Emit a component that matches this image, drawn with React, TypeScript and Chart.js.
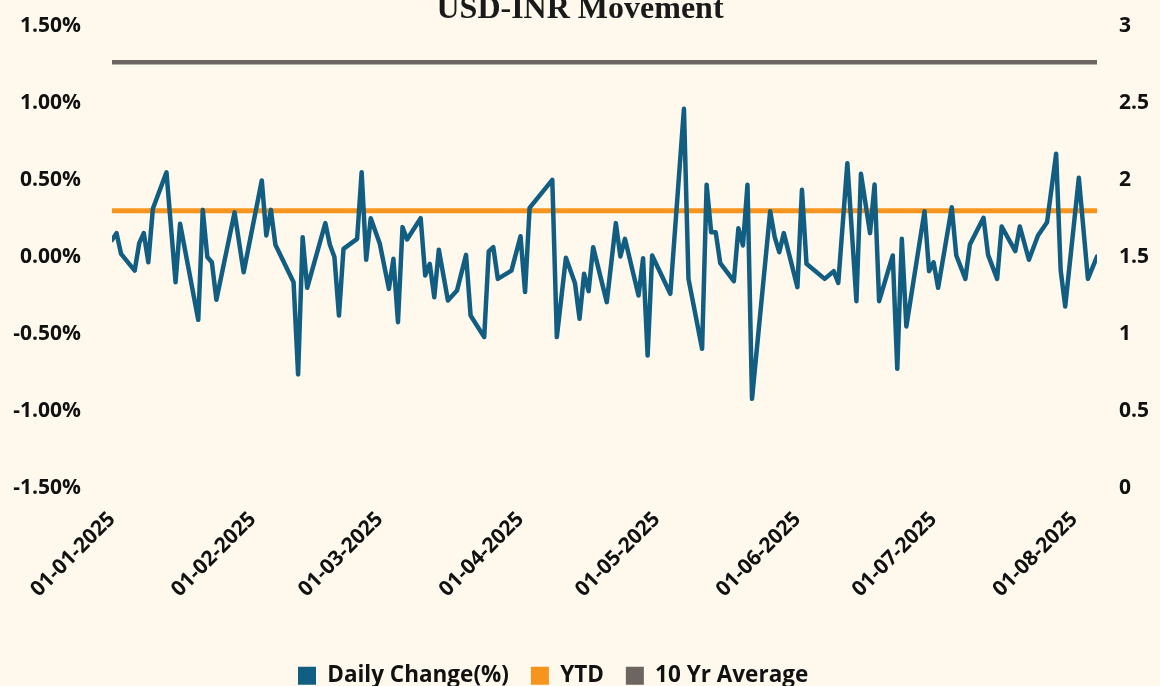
import { useEffect, useRef } from "react";
import { Chart, registerables } from "chart.js";

Chart.register(...registerables);

// ---------- data ----------
const dates: string[] = [
  "01-01-2025", "02-01-2025", "03-01-2025", "06-01-2025", "07-01-2025", "08-01-2025", "09-01-2025", "10-01-2025",
  "13-01-2025", "15-01-2025", "16-01-2025", "20-01-2025", "21-01-2025", "22-01-2025", "23-01-2025", "24-01-2025",
  "28-01-2025", "30-01-2025", "03-02-2025", "04-02-2025", "05-02-2025", "06-02-2025", "10-02-2025", "11-02-2025",
  "12-02-2025", "13-02-2025", "17-02-2025", "18-02-2025", "19-02-2025", "20-02-2025", "21-02-2025", "24-02-2025",
  "25-02-2025", "26-02-2025", "27-02-2025", "01-03-2025", "03-03-2025", "04-03-2025", "05-03-2025", "06-03-2025",
  "07-03-2025", "10-03-2025", "11-03-2025", "12-03-2025", "13-03-2025", "14-03-2025", "16-03-2025", "18-03-2025",
  "20-03-2025", "21-03-2025", "24-03-2025", "25-03-2025", "26-03-2025", "27-03-2025", "30-03-2025", "01-04-2025",
  "02-04-2025", "03-04-2025", "08-04-2025", "09-04-2025", "11-04-2025", "13-04-2025", "14-04-2025", "15-04-2025",
  "16-04-2025", "17-04-2025", "20-04-2025", "22-04-2025", "23-04-2025", "24-04-2025", "27-04-2025", "28-04-2025",
  "29-04-2025", "30-04-2025", "04-05-2025", "07-05-2025", "08-05-2025", "11-05-2025", "12-05-2025", "13-05-2025",
  "14-05-2025", "15-05-2025", "18-05-2025", "19-05-2025", "20-05-2025", "21-05-2025", "22-05-2025", "26-05-2025",
  "27-05-2025", "28-05-2025", "29-05-2025", "01-06-2025", "02-06-2025", "03-06-2025", "07-06-2025", "09-06-2025",
  "10-06-2025", "12-06-2025", "14-06-2025", "15-06-2025", "17-06-2025", "18-06-2025", "19-06-2025", "22-06-2025",
  "23-06-2025", "24-06-2025", "25-06-2025", "29-06-2025", "30-06-2025", "01-07-2025", "02-07-2025", "05-07-2025",
  "06-07-2025", "08-07-2025", "09-07-2025", "12-07-2025", "13-07-2025", "15-07-2025", "16-07-2025", "19-07-2025",
  "20-07-2025", "22-07-2025", "24-07-2025", "26-07-2025", "28-07-2025", "29-07-2025", "30-07-2025", "02-08-2025",
  "04-08-2025", "06-08-2025",
];

const dailyChange: number[] = [
  0.11, 0.155, 0.02, -0.088, 0.09, 0.155, -0.034, 0.313,
  0.55, -0.164, 0.216, -0.408, 0.306, 0.0, -0.034, -0.278,
  0.29, -0.099, 0.497, 0.14, 0.306, 0.08, -0.164, -0.763,
  0.129, -0.2, 0.22, 0.08, 0.0, -0.38, 0.053, 0.118,
  0.551, -0.018, 0.252, 0.086, -0.207, -0.012, -0.423, 0.194,
  0.114, 0.252, -0.12, -0.044, -0.261, 0.047, -0.282, -0.218,
  0.014, -0.38, -0.52, 0.036, 0.064, -0.142, -0.088, 0.135,
  -0.228, 0.319, 0.501, -0.52, -0.005, -0.17, -0.401, -0.109,
  -0.222, 0.064, -0.293, 0.22, 0.003, 0.118, -0.25, -0.008,
  -0.64, 0.01, -0.239, 0.962, -0.142, -0.596, 0.469, 0.161,
  0.161, -0.04, -0.157, 0.187, 0.075, 0.469, -0.921, 0.297,
  0.129, 0.031, 0.155, -0.196, 0.436, -0.044, -0.142, -0.092,
  -0.168, 0.609, -0.287, 0.54, 0.155, 0.471, -0.287, 0.01,
  -0.726, 0.118, -0.451, 0.297, -0.092, -0.034, -0.2, 0.323,
  0.01, -0.142, 0.081, 0.255, 0.014, -0.142, 0.198, 0.038,
  0.198, -0.018, 0.14, 0.226, 0.67, -0.088, -0.321, 0.514,
  -0.142, 0.003,
];

const ytdValue = 1.8;
const tenYearAverage = 2.765;

const monthTickLabels: string[] = [
  "01-01-2025", "01-02-2025", "01-03-2025", "01-04-2025",
  "01-05-2025", "01-06-2025", "01-07-2025", "01-08-2025",
];

const seriesLabels: string[] = ["Daily Change(%)", "YTD", "10 Yr Average"];
const chartTitle = "USD-INR Movement";

// ---------- style ----------
const BG = "#FEF9EC";
const BLUE = "#115E82";
const ORANGE = "#F7941D";
const GRAY = "#6D6562";
const TEXT = "#111111";
const INVISIBLE = "rgba(0,0,0,0)";

function dayIndex(s: string): number {
  const [d, m, y] = s.split("-").map(Number);
  return Math.round((Date.UTC(y, m - 1, d) - Date.UTC(2025, 0, 1)) / 86400000);
}

const legendShift = {
  id: "legendShift",
  afterLayout(chart: any) {
    const lg = chart.legend;
    if (!lg || !lg.lineWidths) return;
    const pad = lg.options.labels.padding;
    const start = (lg.left + pad + lg.right - lg.lineWidths[0]) / 2;
    const dx = 298 - start;
    lg.left += dx;
    lg.right += dx;
  },
};

export default function App() {
  const ref = useRef<HTMLCanvasElement | null>(null);

  useEffect(() => {
    if (!ref.current) return;
    const xs = dates.map(dayIndex);
    const axisFont = { family: "Open Sans", size: 21, weight: "bold" as const };
    const hiddenGrid = (len: number) => ({
      display: true,
      drawOnChartArea: false,
      drawTicks: true,
      tickLength: len,
      color: INVISIBLE,
    });
    const chart = new Chart(ref.current, {
      type: "line",
      data: {
        datasets: [
          {
            label: seriesLabels[0],
            data: xs.map((x, i) => ({ x, y: dailyChange[i] })),
            borderColor: BLUE,
            backgroundColor: BLUE,
            borderWidth: 4.5,
            pointRadius: 0,
            borderJoinStyle: "round",
            borderCapStyle: "round",
            yAxisID: "y",
          },
          {
            label: seriesLabels[1],
            data: xs.map((x) => ({ x, y: ytdValue })),
            borderColor: ORANGE,
            backgroundColor: ORANGE,
            borderWidth: 5,
            pointRadius: 0,
            yAxisID: "y1",
          },
          {
            label: seriesLabels[2],
            data: xs.map((x) => ({ x, y: tenYearAverage })),
            borderColor: GRAY,
            backgroundColor: GRAY,
            borderWidth: 4.5,
            pointRadius: 0,
            yAxisID: "y1",
          },
        ],
      },
      options: {
        responsive: false,
        animation: false,
        layout: { padding: { left: 0, right: 0, top: -9.4, bottom: -11 } },
        plugins: {
          tooltip: { enabled: false },
          title: {
            display: true,
            text: chartTitle,
            color: "#1a1a1a",
            font: { family: "Liberation Serif", size: 32, weight: "bold" },
            padding: { top: 0, bottom: -3 },
          },
          legend: {
            position: "bottom",
            labels: {
              color: TEXT,
              font: { family: "Open Sans", size: 22.5, weight: "bold" },
              boxWidth: 18,
              boxHeight: 18,
              padding: 22,
              generateLabels: (c: any) =>
                c.data.datasets.map((ds: any, i: number) => ({
                  text: ds.label,
                  fillStyle: ds.borderColor,
                  strokeStyle: ds.borderColor,
                  lineWidth: 0,
                  hidden: false,
                  datasetIndex: i,
                  fontColor: TEXT,
                })),
            },
          },
        },
        scales: {
          x: {
            type: "linear",
            min: xs[0],
            max: xs[xs.length - 1],
            grid: hiddenGrid(16),
            border: { display: false },
            afterBuildTicks: (scale: any) => {
              scale.ticks = monthTickLabels.map((l) => ({ value: dayIndex(l) }));
            },
            afterFit: (scale: any) => {
              scale.height = 154.5;
            },
            ticks: {
              autoSkip: false,
              minRotation: 45,
              maxRotation: 45,
              padding: 3,
              color: TEXT,
              font: axisFont,
              callback: (v: any) => monthTickLabels.find((l) => dayIndex(l) === v) ?? "",
            },
          },
          y: {
            position: "left",
            min: -1.5,
            max: 1.5,
            grid: hiddenGrid(28),
            border: { display: false },
            afterFit: (scale: any) => {
              scale.width = 112;
            },
            ticks: {
              stepSize: 0.5,
              padding: 3,
              color: TEXT,
              font: axisFont,
              callback: (v: any) => Number(v).toFixed(2) + "%",
            },
          },
          y1: {
            position: "right",
            min: 0,
            max: 3,
            grid: hiddenGrid(19),
            border: { display: false },
            afterFit: (scale: any) => {
              scale.width = 63;
            },
            ticks: {
              stepSize: 0.5,
              padding: 3,
              color: TEXT,
              font: axisFont,
              callback: (v: any) => String(v),
            },
          },
        },
      },
      plugins: [legendShift],
    } as any);
    return () => chart.destroy();
  }, []);

  return (
    <div
      style={{
        position: "fixed",
        left: 0,
        top: 0,
        width: 1160,
        height: 686,
        background: BG,
        overflow: "hidden",
      }}
    >
      <canvas ref={ref} width={1160} height={686} style={{ width: 1160, height: 686, display: "block" }} />
    </div>
  );
}
